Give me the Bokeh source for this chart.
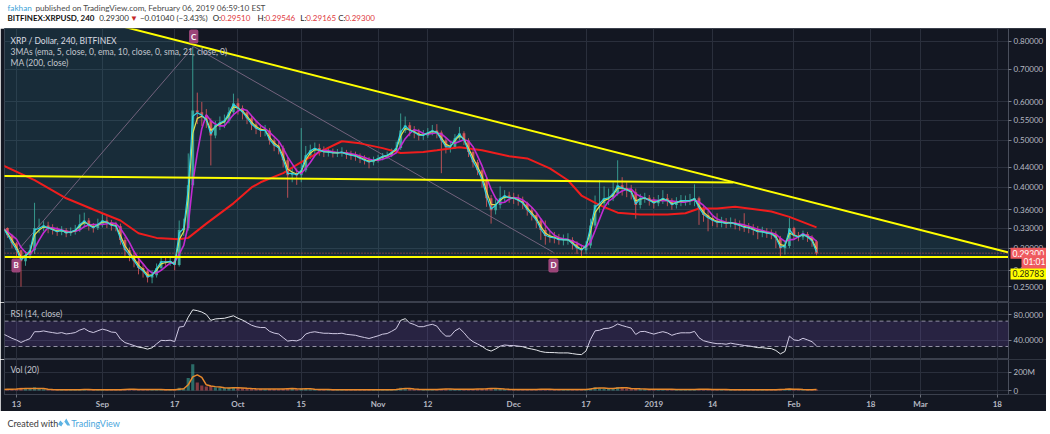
import numpy as np
import pandas as pd
from bokeh.plotting import figure
from bokeh.layouts import column
from bokeh.models import Range1d, FixedTicker, PrintfTickFormatter, Label, BoxAnnotation
from bokeh.core.properties import value
from bokeh.embed import file_html
from bokeh.resources import INLINE

# ---------------- data: XRP/USD (Bitfinex), one row per day ----------------
ORIGIN = pd.Timestamp("2018-08-13")
START = "2018-08-10"
first_open = 0.335
close = [
    0.330, 0.319, 0.307, 0.297, 0.282, 0.290, 0.297, 0.330, 0.330, 0.334,
    0.330, 0.327, 0.324, 0.327, 0.322, 0.324, 0.327, 0.336, 0.342, 0.334,
    0.330, 0.336, 0.342, 0.339, 0.334, 0.333, 0.312, 0.297, 0.290, 0.282,
    0.273, 0.269, 0.261, 0.264, 0.273, 0.282, 0.281, 0.282, 0.277, 0.327,
    0.330, 0.404, 0.576, 0.571, 0.563, 0.549, 0.512, 0.537, 0.544, 0.549,
    0.571, 0.596, 0.582, 0.571, 0.555, 0.539, 0.529, 0.524, 0.524, 0.500,
    0.488, 0.482, 0.455, 0.424, 0.428, 0.424, 0.434, 0.466, 0.477, 0.482,
    0.477, 0.473, 0.473, 0.471, 0.471, 0.473, 0.468, 0.466, 0.464, 0.459,
    0.455, 0.451, 0.455, 0.459, 0.464, 0.466, 0.473, 0.482, 0.524, 0.537,
    0.524, 0.519, 0.512, 0.512, 0.519, 0.524, 0.519, 0.500, 0.484, 0.484,
    0.505, 0.517, 0.500, 0.473, 0.451, 0.434, 0.414, 0.380, 0.359, 0.368,
    0.380, 0.385, 0.381, 0.380, 0.376, 0.371, 0.359, 0.351, 0.342, 0.327,
    0.318, 0.316, 0.315, 0.312, 0.312, 0.312, 0.306, 0.300, 0.297, 0.304,
    0.334, 0.368, 0.371, 0.380, 0.381, 0.389, 0.404, 0.399, 0.395, 0.391,
    0.368, 0.380, 0.381, 0.376, 0.371, 0.376, 0.380, 0.376, 0.368, 0.373,
    0.376, 0.376, 0.376, 0.380, 0.362, 0.351, 0.346, 0.342, 0.339, 0.339,
    0.337, 0.339, 0.336, 0.334, 0.331, 0.330, 0.327, 0.324, 0.324, 0.322,
    0.321, 0.315, 0.300, 0.303, 0.330, 0.318, 0.316, 0.321, 0.316, 0.310, 0.293,
]
high = [
    0.338, 0.331, 0.321, 0.309, 0.298, 0.296, 0.305, 0.372, 0.345, 0.341,
    0.340, 0.336, 0.332, 0.333, 0.330, 0.331, 0.335, 0.352, 0.355, 0.346,
    0.338, 0.345, 0.353, 0.349, 0.343, 0.340, 0.337, 0.316, 0.301, 0.294,
    0.286, 0.278, 0.272, 0.270, 0.279, 0.288, 0.287, 0.287, 0.286, 0.342,
    0.345, 0.470, 0.780, 0.627, 0.600, 0.580, 0.555, 0.548, 0.560, 0.565,
    0.585, 0.624, 0.610, 0.590, 0.578, 0.562, 0.548, 0.540, 0.538, 0.530,
    0.505, 0.496, 0.488, 0.460, 0.440, 0.438, 0.530, 0.487, 0.490, 0.495,
    0.492, 0.486, 0.484, 0.481, 0.480, 0.484, 0.478, 0.476, 0.474, 0.470,
    0.466, 0.462, 0.463, 0.467, 0.471, 0.474, 0.481, 0.497, 0.568, 0.560,
    0.545, 0.535, 0.528, 0.525, 0.530, 0.538, 0.540, 0.524, 0.505, 0.496,
    0.515, 0.533, 0.522, 0.505, 0.478, 0.456, 0.438, 0.418, 0.386, 0.378,
    0.402, 0.395, 0.392, 0.390, 0.387, 0.383, 0.374, 0.364, 0.355, 0.345,
    0.342, 0.326, 0.324, 0.321, 0.320, 0.322, 0.316, 0.310, 0.305, 0.310,
    0.345, 0.385, 0.414, 0.402, 0.398, 0.410, 0.455, 0.420, 0.410, 0.405,
    0.398, 0.388, 0.390, 0.386, 0.382, 0.386, 0.395, 0.388, 0.380, 0.382,
    0.386, 0.385, 0.388, 0.406, 0.383, 0.366, 0.358, 0.352, 0.354, 0.348,
    0.346, 0.347, 0.345, 0.342, 0.354, 0.338, 0.336, 0.333, 0.332, 0.330,
    0.328, 0.325, 0.318, 0.310, 0.346, 0.332, 0.324, 0.326, 0.324, 0.319, 0.312,
]
low = [
    0.322, 0.315, 0.300, 0.288, 0.250, 0.276, 0.285, 0.292, 0.322, 0.325,
    0.322, 0.320, 0.318, 0.319, 0.316, 0.318, 0.320, 0.324, 0.331, 0.326,
    0.323, 0.327, 0.331, 0.330, 0.326, 0.325, 0.305, 0.287, 0.282, 0.274,
    0.265, 0.261, 0.255, 0.254, 0.261, 0.270, 0.276, 0.276, 0.270, 0.275,
    0.318, 0.326, 0.400, 0.540, 0.535, 0.530, 0.444, 0.505, 0.525, 0.530,
    0.542, 0.562, 0.565, 0.552, 0.540, 0.525, 0.515, 0.508, 0.510, 0.490,
    0.475, 0.468, 0.440, 0.381, 0.410, 0.405, 0.410, 0.430, 0.458, 0.468,
    0.465, 0.462, 0.463, 0.461, 0.462, 0.463, 0.458, 0.456, 0.454, 0.449,
    0.446, 0.438, 0.444, 0.450, 0.455, 0.458, 0.462, 0.470, 0.478, 0.518,
    0.510, 0.505, 0.500, 0.501, 0.506, 0.512, 0.505, 0.428, 0.470, 0.472,
    0.480, 0.500, 0.489, 0.462, 0.440, 0.424, 0.400, 0.365, 0.337, 0.352,
    0.362, 0.374, 0.372, 0.370, 0.367, 0.361, 0.350, 0.342, 0.330, 0.312,
    0.305, 0.308, 0.307, 0.305, 0.304, 0.305, 0.298, 0.292, 0.287, 0.292,
    0.300, 0.330, 0.355, 0.362, 0.368, 0.375, 0.385, 0.385, 0.382, 0.378,
    0.345, 0.362, 0.372, 0.367, 0.362, 0.366, 0.370, 0.366, 0.360, 0.362,
    0.366, 0.367, 0.368, 0.366, 0.335, 0.340, 0.325, 0.333, 0.331, 0.331,
    0.330, 0.331, 0.328, 0.326, 0.324, 0.322, 0.319, 0.313, 0.316, 0.315,
    0.313, 0.300, 0.288, 0.291, 0.300, 0.312, 0.310, 0.312, 0.309, 0.302, 0.290,
]
volume_m = [
    12, 14, 15, 18, 30, 20, 16, 35, 20, 14,
    10, 9, 9, 8, 8, 8, 9, 12, 12, 9,
    8, 9, 10, 8, 8, 8, 14, 16, 12, 12,
    11, 10, 12, 12, 10, 9, 8, 8, 8, 30,
    22, 140, 290, 90, 55, 45, 50, 35, 30, 28,
    30, 35, 28, 25, 22, 20, 18, 16, 15, 18,
    16, 15, 20, 28, 16, 14, 25, 18, 14, 12,
    11, 10, 10, 9, 9, 9, 9, 9, 9, 9,
    10, 10, 9, 9, 9, 9, 10, 12, 30, 22,
    16, 14, 12, 11, 12, 12, 13, 18, 16, 13,
    14, 14, 13, 15, 16, 16, 18, 22, 25, 18,
    16, 14, 12, 11, 11, 11, 12, 12, 13, 15,
    14, 12, 11, 11, 10, 10, 11, 12, 13, 13,
    25, 35, 25, 22, 20, 24, 40, 28, 22, 18,
    22, 16, 14, 14, 12, 13, 14, 12, 13, 12,
    11, 11, 11, 14, 18, 13, 12, 11, 11, 10,
    10, 10, 9, 9, 10, 9, 9, 10, 9, 9,
    9, 11, 16, 12, 20, 12, 10, 9, 10, 10, 11,
]

# 200-bar moving average (red)
ma200_dates = ["2018-08-10", "2018-08-17", "2018-08-24", "2018-09-01", "2018-09-05",
               "2018-09-09", "2018-09-13", "2018-09-18", "2018-09-20", "2018-09-24",
               "2018-09-30", "2018-10-04", "2018-10-06", "2018-10-11", "2018-10-15",
               "2018-10-19", "2018-10-24", "2018-10-28", "2018-11-02", "2018-11-06",
               "2018-11-11", "2018-11-14", "2018-11-19", "2018-11-24", "2018-11-30",
               "2018-12-04", "2018-12-09", "2018-12-13", "2018-12-16", "2018-12-20",
               "2018-12-24", "2018-12-29", "2019-01-04", "2019-01-08", "2019-01-11",
               "2019-01-15", "2019-01-19", "2019-01-25", "2019-01-27", "2019-01-31",
               "2019-02-06"]
ma200_vals = [0.444, 0.414, 0.380, 0.354, 0.342, 0.322, 0.315, 0.313, 0.315, 0.337,
              0.371, 0.400, 0.410, 0.428, 0.451, 0.473, 0.498, 0.493, 0.482, 0.471,
              0.473, 0.477, 0.484, 0.477, 0.464, 0.459, 0.438, 0.414, 0.385, 0.368,
              0.355, 0.352, 0.352, 0.354, 0.362, 0.362, 0.365, 0.359, 0.357, 0.348,
              0.331]

# drawings: falling trend line, flat resistance, support and the B-C-D swing
desc_dates = ["2018-08-03 00:00", "2019-03-20 12:00"]
desc_prices = [1.03, 0.294]
res_dates = ["2018-08-09 00:00", "2019-01-18 14:00"]
res_prices = [0.4223, 0.4095]
support_price = 0.28783
pattern_names = ["B", "C", "D"]
pattern_dates = ["2018-08-12 22:00", "2018-09-21 05:00", "2018-12-09 19:00"]
pattern_prices = [0.294, 0.780, 0.294]

tick_dates = ["2018-08-13", "2018-09-01", "2018-09-17", "2018-10-01", "2018-10-15",
              "2018-11-01", "2018-11-12", "2018-12-01", "2018-12-17", "2019-01-01",
              "2019-01-14", "2019-02-01", "2019-02-18", "2019-03-01", "2019-03-18"]
tick_labels = ["13", "Sep", "17", "Oct", "15", "Nov", "12", "Dec", "17", "2019",
               "14", "Feb", "18", "Mar", "18"]
price_ticks = [0.25, 0.27, 0.30, 0.33, 0.36, 0.40, 0.44, 0.50, 0.55, 0.60, 0.70, 0.80]

# ---------------- derived series ----------------
def to_day(d):
    ts = pd.to_datetime(pd.Series(d), format="mixed")
    return (ts - ORIGIN) / pd.Timedelta(days=1)

BARS_PER_DAY = 6  # the moving-average periods are stated in 4-hour bars
dates = pd.date_range(START, periods=len(close), freq="D")
day = ((dates - ORIGIN) / pd.Timedelta(days=1)).values
c = np.array(close)
o = np.array([first_open] + close[:-1])
h = np.array(high)
l = np.array(low)
up = c >= o
UP_C, DN_C = "#3fb3a3", "#e2595c"
col = np.where(up, UP_C, DN_C)

s = pd.Series(c)
ema_fast = s.ewm(alpha=1 - (1 - 2 / 6) ** BARS_PER_DAY, adjust=False).mean()
ema_mid = s.ewm(alpha=1 - (1 - 2 / 11) ** BARS_PER_DAY, adjust=False).mean()
sma_slow = s.rolling(round(21 / BARS_PER_DAY), min_periods=1).mean()

# Wilder RSI(14) on the daily closes, averages seeded evenly
RSI_N = 14
delta = s.diff().fillna(0.0).values
avg_gain, avg_loss = 0.006, 0.006
rsi = []
for dv in delta:
    avg_gain = (avg_gain * (RSI_N - 1) + max(dv, 0.0)) / RSI_N
    avg_loss = (avg_loss * (RSI_N - 1) + max(-dv, 0.0)) / RSI_N
    rsi.append(100 - 100 / (1 + avg_gain / avg_loss))

vol = np.array(volume_m, dtype=float)
vol_ma = pd.Series(vol).rolling(round(20 / BARS_PER_DAY), min_periods=1).mean()

# ---------------- styling ----------------
BG = "#131722"
GRID = "#2a2f3c"
SEP = "#3b404d"
AX_TXT = "#b7bac2"
FONT = "Lato"
X0, X1 = -2.65, 219.47            # visible dates of the chart area
CHART_W, SCALE_W = 1004, 38        # chart area and price-scale strip, px
XE = X0 + (X1 - X0) * (CHART_W + SCALE_W) / CHART_W
xr = Range1d(X0, XE)
tick_days = [float(v) for v in to_day(tick_dates)]


def pane(frame_h, yr, y_type="linear", time_axis=False):
    p = figure(frame_width=CHART_W + SCALE_W, frame_height=frame_h, x_range=xr,
               y_range=yr, y_axis_type=y_type, y_axis_location="right",
               x_axis_location="below" if time_axis else None,
               toolbar_location=None, output_backend="svg",
               min_border_left=4, min_border_right=0, min_border_top=0,
               min_border_bottom=16 if time_axis else 0,
               background_fill_color=BG, border_fill_color=BG,
               outline_line_color=SEP)
    p.xgrid.ticker = FixedTicker(ticks=tick_days)
    p.grid.grid_line_color = GRID
    ax = p.yaxis[0]
    ax.fixed_location = X1          # price scale sits on the chart's right edge
    ax.axis_line_color = "#4a4f5c"
    ax.major_tick_out = 3
    ax.major_tick_in = 0
    ax.minor_tick_out = 0
    ax.minor_tick_in = 0
    ax.major_tick_line_color = "#7a7e88"
    ax.major_label_text_color = AX_TXT
    ax.major_label_text_font = FONT
    ax.major_label_text_font_size = "8px"
    ax.major_label_standoff = 2
    return p


def scale_strip(p, yr):
    # plain background behind the price scale
    p.quad(left=[X1], right=[XE], bottom=[yr.start], top=[yr.end],
           fill_color=BG, line_color=None)


def legend_text(p, y_top, lines, colors, first_offset, step):
    p.text(x=[X0] * len(lines), y=[y_top] * len(lines), text=lines,
           x_offset=6, y_offset=[first_offset + i * step for i in range(len(lines))],
           text_color=colors, text_font=value(FONT), text_font_size="8.5px",
           text_baseline="middle")


def flag(p, xv, yv, text, fill, color, x_off, y_off):
    p.add_layout(Label(x=xv, y=yv, text=text, text_align="left", text_baseline="middle",
                       x_offset=x_off, y_offset=y_off, text_color=color,
                       text_font=FONT, text_font_size="8.5px", level="overlay",
                       background_fill_color=fill, padding=2))


# ---------------- header ----------------
head = figure(width=1050, height=28, x_range=(0, 1050), y_range=(28, 0),
              toolbar_location=None, output_backend="svg", min_border=0,
              x_axis_location=None, y_axis_location=None,
              background_fill_color="white", border_fill_color="white",
              outline_line_color=None)
head.grid.visible = False
RED = "#e0393e"
head.text(x=[3, 31], y=[7, 7],
          text=["fakhan", "published on TradingView.com, February 06, 2019 06:59:10 EST"],
          text_color=["#3ba3d8", "#4a4a4a"], text_font=value(FONT),
          text_font_size="8.2px", text_baseline="middle")
hx = [95, 126, 136, 209, 217, 254, 262, 297, 303, 335, 342]
ht = [f"{close[-1]:.5f}", "\u25BC", "\u22120.01040 (\u22123.43%)",
      "O:", "0.29510", "H:", "0.29546", "L:", "0.29165", "C:", f"{close[-1]:.5f}"]
hc = ["#333333", "#c62828", "#333333",
      "#222222", RED, "#222222", RED, "#222222", RED, "#222222", RED]
head.text(x=hx, y=[17.5] * len(hx), text=ht, text_color=hc, text_font=value(FONT),
          text_font_size="8px", text_baseline="middle")
head.text(x=[3], y=[17.5], text=["BITFINEX:XRPUSD, 240"], text_color="#111111",
          text_font=value(FONT), text_font_size="8px", text_font_style="bold",
          text_baseline="middle")

# ---------------- price pane ----------------
main_yr = Range1d(0.2319, 0.8497)
main = pane(274, main_yr, y_type="log")
main.yaxis[0].ticker = FixedTicker(ticks=price_ticks)
main.yaxis[0].formatter = PrintfTickFormatter(format="%.5f")
main.ygrid.ticker = FixedTicker(ticks=price_ticks)

dd = to_day(desc_dates).tolist()
main.patch(x=[dd[0], dd[1], dd[1], dd[0]],
           y=[desc_prices[0], desc_prices[1], support_price, support_price],
           fill_color="#2f7d8c", fill_alpha=0.22, line_color=None)

main.segment(x0=day, y0=l, x1=day, y1=h, line_color=col, line_width=1, line_alpha=0.8)
main.vbar(x=day, top=np.maximum(o, c), bottom=np.minimum(o, c), width=0.62,
          fill_color=col, line_color=None, fill_alpha=0.85)

pd_days = to_day(pattern_dates).tolist()
main.line(pd_days, pattern_prices, line_color="#7c6884", line_width=1, line_alpha=0.9)

main.line(to_day(ma200_dates).tolist(), ma200_vals, line_color="#f01d1d", line_width=2)
main.line(day, sma_slow, line_color="#c22bd2", line_width=1.6)
main.line(day, ema_mid, line_color="#e3e04a", line_width=1.2)
main.line(day, ema_fast, line_color="#2fd3e6", line_width=1.2)

main.line(dd, desc_prices, line_color="#ffff00", line_width=2)
main.line(to_day(res_dates).tolist(), res_prices, line_color="#ffff00", line_width=2)
main.segment(x0=[X0], y0=[close[-1]], x1=[X1], y1=[close[-1]], line_color="#e2595c",
             line_dash="1 2", line_width=1, line_alpha=0.9)
main.segment(x0=[X0], y0=[support_price], x1=[X1], y1=[support_price],
             line_color="#ffff00", line_width=2)
scale_strip(main, main_yr)

for name, xd, pr in zip(pattern_names, pd_days, pattern_prices):
    main.add_layout(Label(x=xd, y=pr, text=name, text_align="center",
                          text_baseline="middle", y_offset=10 if name == "C" else -13,
                          text_color="white", text_font=FONT, text_font_size="8px",
                          text_font_style="bold", background_fill_color="#9b4579",
                          padding=2, border_radius=2))

legend_text(main, main_yr.end,
            ["XRP / Dollar, 240, BITFINEX",
             "3MAs (ema, 5, close, 0, ema, 10, close, 0, sma, 21, close, 0)",
             "MA (200, close)"],
            ["#d8dae0", "#c3c6ce", "#c3c6ce"], 12, 11)

# price flags on the scale
flag(main, X1, close[-1], f"{close[-1]:.5f}", "#ef5a5e", "white", 2, 0)
flag(main, X1, close[-1], "01:01", "#ef5a5e", "white", 13, -9)
flag(main, X1, support_price, f"{support_price:.5f}", "#ffff00", "#2a2a10", 2, -17)

# ---------------- RSI pane ----------------
rsi_yr = Range1d(9.5, 99.4)
rp = pane(57, rsi_yr)
rp.yaxis[0].ticker = FixedTicker(ticks=[40, 80])
rp.yaxis[0].formatter = PrintfTickFormatter(format="%.4f")
rp.ygrid.ticker = FixedTicker(ticks=[40, 80])
rp.add_layout(BoxAnnotation(left=X0, right=X1, bottom=30, top=70, fill_color="#7e57c2",
                            fill_alpha=0.2, line_color=None))
rp.segment(x0=[X0, X0], y0=[30, 70], x1=[X1, X1], y1=[30, 70], line_color="#9598a1",
           line_dash="4 3", line_width=1)
rp.line(day, rsi, line_color="#e4e6eb", line_width=1)
scale_strip(rp, rsi_yr)
legend_text(rp, rsi_yr.end, ["RSI (14, close)"], ["#c3c6ce"], 11, 0)

# ---------------- volume pane with the time scale ----------------
vol_yr = Range1d(-44, 344)
vp = pane(35, vol_yr, time_axis=True)
vp.yaxis[0].ticker = FixedTicker(ticks=[0, 200])
vp.yaxis[0].major_label_overrides = {0: "0", 200: "200M"}
vp.ygrid.ticker = FixedTicker(ticks=[0, 200])
vp.vbar(x=day, top=vol, bottom=0, width=0.7, fill_color=col, fill_alpha=0.55,
        line_color=None)
vp.line(day, vol_ma, line_color="#e8892c", line_width=1.5)
scale_strip(vp, vol_yr)
legend_text(vp, vol_yr.end, ["Vol (20)"], ["#c3c6ce"], 10, 0)
xa = vp.xaxis[0]
xa.ticker = FixedTicker(ticks=tick_days)
xa.major_label_overrides = {float(d): t for d, t in zip(tick_days, tick_labels)}
xa.axis_line_color = None
xa.major_tick_out = 3
xa.major_tick_in = 0
xa.minor_tick_out = 0
xa.minor_tick_in = 0
xa.major_tick_line_color = "#6a6e78"
xa.major_label_text_color = AX_TXT
xa.major_label_text_font = FONT
xa.major_label_text_font_size = "8px"
xa.major_label_text_font_style = "bold"
xa.major_label_standoff = 1

# ---------------- footer ----------------
foot = figure(width=1050, height=24, x_range=(0, 1050), y_range=(24, 0),
              toolbar_location=None, output_backend="svg", min_border=0,
              x_axis_location=None, y_axis_location=None,
              background_fill_color="white", border_fill_color="white",
              outline_line_color=None)
foot.grid.visible = False
foot.text(x=[3], y=[12], text=["Created with"], text_color="#3a3a3a",
          text_font=value(FONT), text_font_size="9px", text_baseline="middle")
foot.patch(x=[52, 56, 59, 62, 66, 63, 60, 57, 54],
           y=[16, 9, 12, 7, 14, 14, 10, 15, 13],
           fill_color="#5db3e3", line_color=None)
foot.text(x=[67], y=[12], text=["TradingView"], text_color="#4aa6dc",
          text_font=value(FONT), text_font_size="9px", text_baseline="middle")

layout = column(head, main, rp, vp, foot, spacing=0)
open("out.html", "w").write(file_html(layout, INLINE))
